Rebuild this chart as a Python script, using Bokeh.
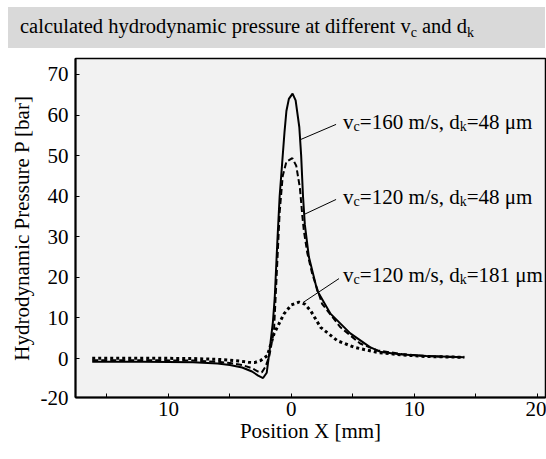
from bokeh.plotting import figure
from bokeh.models import FixedTicker, ColumnDataSource, Range1d, Div
from bokeh.layouts import column
from bokeh.embed import file_html
from bokeh.resources import INLINE
from bokeh.core.properties import value

# ---------------- data ----------------
# v_c = 160 m/s, d_k = 48 um (solid)
x_v160_d48 = [-16.2, -12, -8, -6, -5, -4, -3.2, -2.7, -2.3, -2.0, -1.8, -1.5, -1.35, -1.15,
              -0.95, -0.75, -0.55, -0.4, -0.2, 0.1, 0.35, 0.65, 0.8, 0.95, 1.1, 1.43, 2.11, 3.2,
              4.8, 6.4, 7.3, 9, 11, 14.07]
y_v160_d48 = [-0.8, -0.8, -0.9, -1.2, -1.6, -2.2, -3.2, -4.2, -4.8, -3.5, 1.2, 9.0, 15.0, 28.0,
              40.0, 48.0, 56.0, 61.0, 64.0, 65.3, 63.6, 57.0, 50.0, 40.0, 33.0, 25.0, 16.7, 11.0,
              6.2, 2.8, 1.6, 1.0, 0.6, 0.3]

# v_c = 120 m/s, d_k = 48 um (dashed)
x_v120_d48 = [-16.2, -12, -8, -6, -5, -4, -3.2, -2.7, -2.4, -2.1, -1.8, -1.41, -1.2, -0.95,
              -0.7, -0.4, 0.08, 0.4, 0.7, 0.9, 1.02, 1.3, 1.7, 2.5, 4.0, 5.6, 7, 9, 11, 14.07]
y_v120_d48 = [-0.4, -0.4, -0.5, -0.8, -1.1, -1.6, -2.4, -3.2, -3.4, -2.0, 0.5, 6.9, 20.0, 36.0,
              45.0, 48.5, 49.4, 47.5, 42.0, 35.0, 31.5, 26.0, 20.9, 13.5, 7.7, 3.7, 2.0, 1.1, 0.6, 0.3]

# v_c = 120 m/s, d_k = 181 um (dotted)
x_v120_d181 = [-16.2, -12, -8, -6, -5, -4, -3.5, -3.0, -2.5, -1.95, -1.41, -1.28, -0.6, 0.0,
               0.62, 1.1, 1.57, 2.38, 3.74, 5.1, 7, 9, 11, 14.07]
y_v120_d181 = [0.1, 0.1, 0.0, -0.2, -0.4, -0.7, -0.9, -1.0, -0.5, 0.7, 6.1, 6.9, 11.0, 13.2,
               13.9, 13.4, 11.8, 7.7, 4.4, 2.8, 1.5, 0.9, 0.5, 0.3]

# curve labels
label_vc = ["160", "120", "120"]
label_dk = ["48", "48", "181"]
label_x = [4.21, 4.21, 4.21]
label_y = [58.2, 39.7, 20.5]
leader_x0 = [3.64, 3.64, 3.88]
leader_y0 = [57.7, 39.2, 19.7]
leader_x1 = [0.78, 1.03, 0.95]
leader_y1 = [54.0, 35.5, 13.8]

# axes ticks
x_major = [-10, 0, 10, 20]
x_minor = [-15, -5, 5, 15]
x_labels = {-10: "10", 0: "0", 10: "10", 20: "20"}
y_major = [-9.6, 0, 10, 20, 30, 40, 50, 60, 70]
y_labels = {-9.6: "-20"}

title_main = "calculated hydrodynamic pressure at different v"
title_sub1 = "c"
title_mid = " and d"
title_sub2 = "k"

# ---------------- helpers ----------------
FONT = "Liberation Serif"
W = {'v': .5, 'c': .444, '=': .564, '1': .5, '6': .5, '0': .5, ' ': .25, 'm': .778, '/': .278,
     's': .389, ',': .25, 'd': .5, 'k': .5, '4': .5, '8': .5, 'μ': .56, '2': .5}


def tw(s, size):
    return sum(W.get(ch, .5) for ch in s) * size


BIG, SMALL, SUBDY = 21, 14, 4
X0, X1, Y0, Y1 = -17.56, 20.68, -9.6, 73.94

# ---------------- title banner ----------------
sub = '<span style="font-size:%dpx;vertical-align:-%dpx;line-height:0">%s</span>'
title_html = (title_main + sub % (SMALL, SUBDY, title_sub1) + title_mid
              + sub % (SMALL, SUBDY, title_sub2))
banner = Div(text=title_html, width=537, height=41, margin=(7, 0, 0, 8),
             styles={"background-color": "#d9d9d9", "font-family": FONT,
                     "font-size": "20.5px", "color": "black", "padding-left": "12px",
                     "line-height": "38px", "white-space": "nowrap", "box-sizing": "border-box"})

# ---------------- main plot ----------------
p = figure(width=546, height=407, x_range=Range1d(X0, X1), y_range=Range1d(Y0, Y1),
           output_backend="svg", toolbar_location=None,
           min_border_left=75, min_border_right=1, min_border_top=10, min_border_bottom=58,
           background_fill_color="#f2f2f2", border_fill_color="white",
           outline_line_color="black", outline_line_width=1.5)
p.grid.visible = False

p.line(x_v160_d48, y_v160_d48, line_color="black", line_width=2)
p.line(x_v120_d48, y_v120_d48, line_color="black", line_width=2, line_dash="6 3")
p.line(x_v120_d181, y_v120_d181, line_color="black", line_width=3, line_dash="3 3")

p.segment(x0=leader_x0, y0=leader_y0, x1=leader_x1, y1=leader_y1, line_color="black", line_width=1)

lsrc = dict(x=[], y=[], text=[], xo=[], yo=[], fs=[])
for vc, dk, lx, ly in zip(label_vc, label_dk, label_x, label_y):
    off = 0.0
    for txt, size, dy in [("v", BIG, 0), ("c", SMALL, SUBDY), ("=%s m/s, d" % vc, BIG, 0),
                          ("k", SMALL, SUBDY), ("=%s μm" % dk, BIG, 0)]:
        lsrc["x"].append(lx)
        lsrc["y"].append(ly)
        lsrc["text"].append(txt)
        lsrc["xo"].append(off)
        lsrc["yo"].append(dy)
        lsrc["fs"].append("%dpx" % size)
        off += tw(txt, size)
p.text(x="x", y="y", text="text", x_offset="xo", y_offset="yo", text_font_size="fs",
       source=ColumnDataSource(lsrc), text_font=value(FONT), text_color="black",
       text_baseline="alphabetic", text_align="left")

xa = p.xaxis[0]
xa.ticker = FixedTicker(ticks=x_major, minor_ticks=x_minor)
xa.major_label_overrides = x_labels
xa.axis_label = "Position X [mm]"
ya = p.yaxis[0]
ya.ticker = FixedTicker(ticks=y_major, minor_ticks=[])
ya.major_label_overrides = y_labels
ya.axis_label = "Hydrodynamic Pressure P [bar]"

for ax in (xa, ya):
    ax.axis_line_color = "black"
    ax.axis_line_width = 2
    ax.major_tick_in = 4
    ax.major_tick_out = 0
    ax.minor_tick_in = 4
    ax.minor_tick_out = 0
    ax.major_tick_line_color = "black"
    ax.minor_tick_line_color = "black"
    ax.major_label_text_font = FONT
    ax.major_label_text_font_size = "21px"
    ax.major_label_text_color = "black"
    ax.axis_label_text_font = FONT
    ax.axis_label_text_font_style = "normal"
    ax.axis_label_text_font_size = "21px"
    ax.axis_label_text_color = "black"

xa.major_label_standoff = 4
xa.axis_label_standoff = 0
ya.major_label_standoff = 7
ya.axis_label_standoff = 4

layout = column(banner, p, spacing=0)
open("out.html", "w").write(file_html(layout, INLINE))
